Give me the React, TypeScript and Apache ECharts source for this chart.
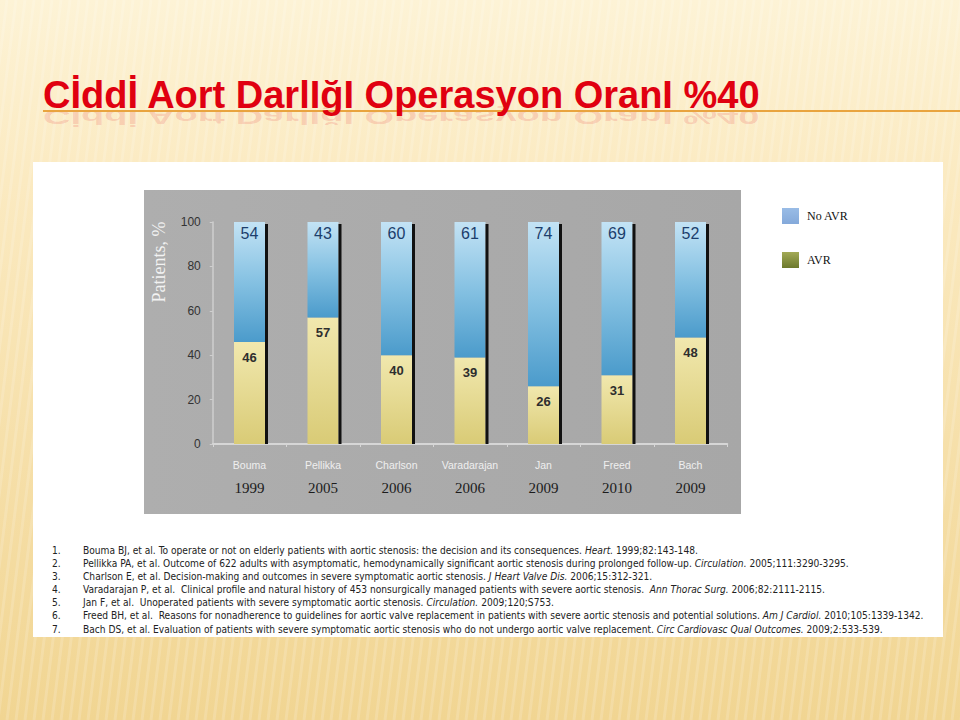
import { useEffect, useRef } from 'react';
import * as echarts from 'echarts';

const TITLE = 'Cİddİ Aort DarlIğI Operasyon OranI %40';
const categories = ['Bouma', 'Pellikka', 'Charlson', 'Varadarajan', 'Jan', 'Freed', 'Bach'];
const years = ['1999', '2005', '2006', '2006', '2009', '2010', '2009'];
const avr = [46, 57, 40, 39, 26, 31, 48];
const noAvr = [54, 43, 60, 61, 74, 69, 52];
const yMin = 0;
const yMax = 100;
const yInterval = 20;
const yAxisName = 'Patients, %';
const legendNames = ['No AVR', 'AVR'];

type Part = [string, boolean];
const references: { n: string; parts: Part[] }[] = [
  { n: '1.', parts: [['Bouma BJ, et al. To operate or not on elderly patients with aortic stenosis: the decision and its consequences. ', false], ['Heart.', true], [' 1999;82:143-148.', false]] },
  { n: '2.', parts: [['Pellikka PA, et al. Outcome of 622 adults with asymptomatic, hemodynamically significant aortic stenosis during prolonged follow-up. ', false], ['Circulation.', true], [' 2005;111:3290-3295.', false]] },
  { n: '3.', parts: [['Charlson E, et al. Decision-making and outcomes in severe symptomatic aortic stenosis. ', false], ['J Heart Valve Dis.', true], [' 2006;15:312-321.', false]] },
  { n: '4.', parts: [['Varadarajan P, et al.  Clinical profile and natural history of 453 nonsurgically managed patients with severe aortic stenosis.  ', false], ['Ann Thorac Surg.', true], [' 2006;82:2111-2115.', false]] },
  { n: '5.', parts: [['Jan F, et al.  Unoperated patients with severe symptomatic aortic stenosis. ', false], ['Circulation.', true], [' 2009;120;S753.', false]] },
  { n: '6.', parts: [['Freed BH, et al.  Reasons for nonadherence to guidelines for aortic valve replacement in patients with severe aortic stenosis and potential solutions. ', false], ['Am J Cardiol.', true], [' 2010;105:1339-1342.', false]] },
  { n: '7.', parts: [['Bach DS, et al. Evaluation of patients with severe symptomatic aortic stenosis who do not undergo aortic valve replacement. ', false], ['Circ Cardiovasc Qual Outcomes.', true], [' 2009;2:533-539.', false]] },
];

const BAR_W = 31;
const COND = "'DejaVu Sans Condensed', 'DejaVu Sans', sans-serif";
const SERIF = "'Liberation Serif', 'DejaVu Serif', serif";
const SANS = "'Liberation Sans', Arial, sans-serif";

export default function App() {
  const ref = useRef<HTMLDivElement>(null);
  useEffect(() => {
    if (!ref.current) return;
    const chart = echarts.init(ref.current, undefined, { renderer: 'svg' });
    const LG = echarts.graphic.LinearGradient;

    // decorative background stripes
    const stripes: any[] = [];
    for (let x = -200; x < 1100; x += 9) {
      stripes.push({
        type: 'line', z: -20, silent: true,
        shape: { x1: x, y1: 0, x2: x - 90, y2: 720 },
        style: { stroke: 'rgba(255,255,255,0.16)', lineWidth: 3 },
      });
    }

    const refGraphics: any[] = [];
    references.forEach((r, i) => {
      const y = 550 + i * 13.17;
      refGraphics.push({
        type: 'text', x: 52, y, z: 5,
        style: { text: r.n, font: `10.15px ${COND}`, fill: '#222', verticalAlign: 'middle' },
      });
      refGraphics.push({
        type: 'text', x: 83, y, z: 5,
        style: {
          text: r.parts.map(([t, it]) => `{${it ? 'i' : 'r'}|${t}}`).join(''),
          verticalAlign: 'middle',
          rich: {
            r: { fontFamily: COND, fontSize: 10.15, fill: '#222', color: '#222' },
            i: { fontFamily: COND, fontSize: 10.15, fontStyle: 'italic', fill: '#222', color: '#222' },
          },
        },
      });
    });

    const option: any = {
      animation: false,
      backgroundColor: new LG(0, 0, 0, 1, [
        { offset: 0, color: '#FDF3D6' },
        { offset: 0.25, color: '#FBEAC1' },
        { offset: 1, color: '#F1D592' },
      ]),
      graphic: [
        ...stripes,
        // title reflection
        {
          type: 'group', y: 169.4, scaleY: -0.55, z: 1,
          children: [{
            type: 'text', x: 43, y: 95,
            style: { text: TITLE, font: `bold 38px ${SANS}`, fill: '#E00010', opacity: 0.14, verticalAlign: 'middle' },
          }],
        },
        {
          type: 'line', z: 2,
          shape: { x1: 43, y1: 111, x2: 960, y2: 111 },
          style: { stroke: '#E9A43F', lineWidth: 2 },
        },
        {
          type: 'text', x: 43, y: 95, z: 3,
          style: { text: TITLE, font: `bold 38px ${SANS}`, fill: '#E00010', verticalAlign: 'middle' },
        },
        {
          type: 'rect', z: -10,
          shape: { x: 33, y: 162, width: 910, height: 475 },
          style: { fill: '#FFFFFF' },
        },
        {
          type: 'rect', z: -9,
          shape: { x: 144, y: 190, width: 597, height: 324 },
          style: { fill: new LG(0, 0, 1, 0, [{ offset: 0, color: '#AEAEAE' }, { offset: 1, color: '#A7A7A7' }]) },
        },
        {
          type: 'text', x: 159, y: 262, rotation: Math.PI / 2, z: 5,
          style: { text: yAxisName, font: `18px ${SERIF}`, fill: '#F2F2F2', align: 'center', verticalAlign: 'middle' },
        },
        ...refGraphics,
      ],
      legend: {
        orient: 'vertical',
        left: 777,
        top: 203,
        itemWidth: 17,
        itemHeight: 16,
        itemGap: 28,
        icon: 'rect',
        textStyle: { fontFamily: SERIF, fontSize: 12, color: '#111', padding: [0, 0, 0, 3] },
        data: [
          { name: legendNames[0], itemStyle: { color: new LG(0, 0, 0, 1, [{ offset: 0, color: '#99BCE6' }, { offset: 1, color: '#84A9DA' }]) } },
          { name: legendNames[1], itemStyle: { color: new LG(0, 0, 0, 1, [{ offset: 0, color: '#A3AA56' }, { offset: 1, color: '#6C792C' }]) } },
        ],
      },
      grid: { left: 212.75, right: 232.75, top: 222, bottom: 276, containLabel: false },
      xAxis: {
        type: 'category',
        data: categories,
        axisLine: { lineStyle: { color: '#D6D6D6', width: 2 } },
        axisTick: { show: true, length: 3, lineStyle: { color: '#D6D6D6' } },
        axisLabel: {
          interval: 0,
          margin: 9.5,
          formatter: (v: string, i: number) => `{n|${v}}\n{y|${years[i]}}`,
          rich: {
            n: { fontFamily: SANS, fontSize: 10.5, color: '#EFEFEF', lineHeight: 23 },
            y: { fontFamily: SERIF, fontSize: 15, color: '#1C1C1C', lineHeight: 23 },
          },
        },
      },
      yAxis: {
        type: 'value',
        min: yMin,
        max: yMax,
        interval: yInterval,
        splitLine: { show: false },
        axisLine: { show: true, lineStyle: { color: '#CFCFCF', width: 1.5 } },
        axisTick: { show: true, length: 3, lineStyle: { color: '#CFCFCF' } },
        axisLabel: { margin: 12, fontFamily: SANS, fontSize: 12, color: '#333' },
      },
      series: [
        {
          name: legendNames[1],
          type: 'bar',
          stack: 'total',
          barWidth: BAR_W,
          data: avr,
          itemStyle: { color: new LG(0, 0, 0, 1, [{ offset: 0, color: '#F1E8AE' }, { offset: 1, color: '#D9CB76' }]) },
          label: {
            show: true, position: 'insideTop', distance: 9,
            fontFamily: SANS, fontSize: 13, fontWeight: 'bold', color: '#2E2E2E',
          },
        },
        {
          name: legendNames[0],
          type: 'bar',
          stack: 'total',
          barWidth: BAR_W,
          data: noAvr,
          itemStyle: { color: new LG(0, 0, 0, 1, [{ offset: 0, color: '#C3E3F5' }, { offset: 0.5, color: '#85C1E2' }, { offset: 1, color: '#4B9BCB' }]) },
          label: {
            show: true, position: 'insideTop', distance: 3,
            fontFamily: SANS, fontSize: 16, color: '#1C3E6C',
          },
        },
        {
          type: 'custom',
          silent: true,
          z: 3,
          data: categories.map((_, i) => [i, avr[i] + noAvr[i]]),
          renderItem: (_p: any, api: any) => {
            const idx = api.value(0);
            const top = api.coord([idx, api.value(1)]);
            const bottom = api.coord([idx, 0]);
            return {
              type: 'rect',
              shape: { x: top[0] + BAR_W / 2, y: top[1] + 2, width: 3, height: bottom[1] - top[1] - 2 },
              style: { fill: '#111' },
            };
          },
        },
      ],
    };
    chart.setOption(option);
    return () => chart.dispose();
  }, []);
  return <div ref={ref} style={{ position: 'absolute', left: 0, top: 0, width: 960, height: 720 }} />;
}
